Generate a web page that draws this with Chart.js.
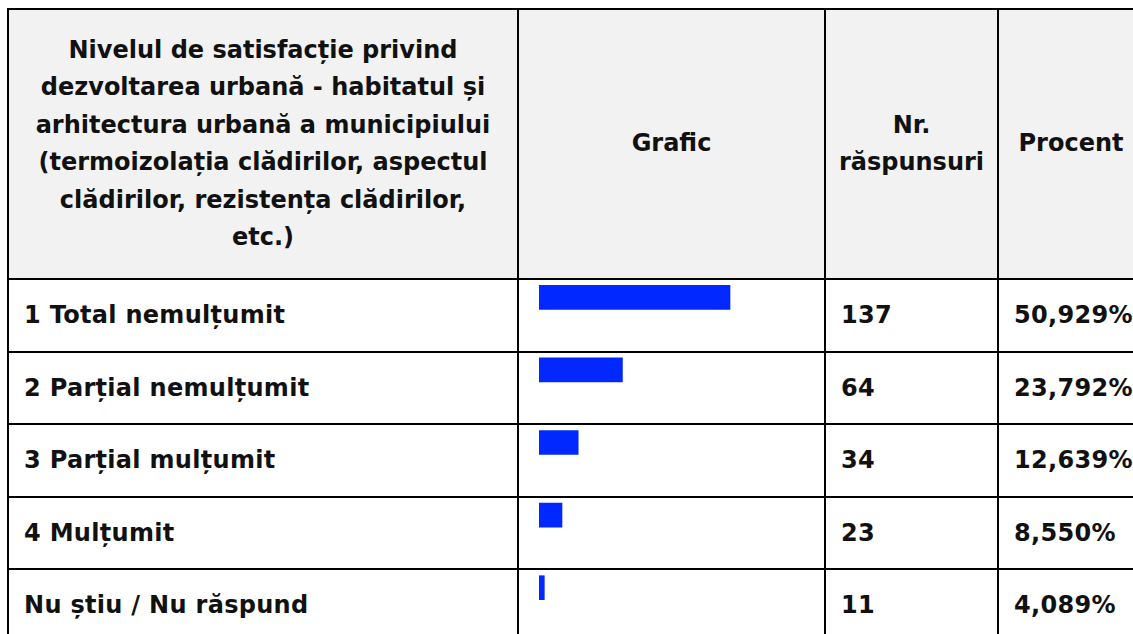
<!DOCTYPE html>
<html>
<head>
<meta charset="utf-8">
<script src="https://cdn.jsdelivr.net/npm/chart.js@4"></script>
<style>
  html, body { margin: 0; padding: 0; background: #fff; overflow: hidden; }
  body { width: 1133px; height: 634px; position: relative; }
  #tbl {
    position: absolute; left: 7px; top: 8px;
    border-collapse: collapse; table-layout: fixed; width: 1136px;
    font-family: "DejaVu Sans", sans-serif;
    font-weight: bold; font-size: 24px; color: #111;
  }
  #tbl td { border: 2px solid #000; padding: 0 15px; vertical-align: middle; white-space: nowrap; letter-spacing: 0.3px; }
  #tbl tr.head td { background: #f2f2f2; text-align: center; line-height: 37.5px; height: 268px; white-space: normal; padding: 0 6px; letter-spacing: 0; }
  #tbl tr.head td.first { padding: 0 22px; }
  #tbl tr.row td { height: 70.5px; }
  #grafic { position: absolute; left: 539px; top: 261px; }
</style>
</head>
<body>
<table id="tbl">
  <colgroup><col style="width:510px"><col style="width:307px"><col style="width:173px"><col style="width:146px"></colgroup>
  <tr class="head">
    <td class="first">Nivelul de satisfacție privind dezvoltarea urbană - habitatul și arhitectura urbană a municipiului (termoizolația clădirilor, aspectul clădirilor, rezistența clădirilor, etc.)</td>
    <td>Grafic</td>
    <td>Nr. răspunsuri</td>
    <td>Procent</td>
  </tr>
</table>
<canvas id="grafic" width="270" height="363"></canvas>
<script>
// categories, answer counts and the printed percentages
var categories = ["1 Total nemulțumit", "2 Parțial nemulțumit", "3 Parțial mulțumit", "4 Mulțumit", "Nu știu / Nu răspund"];
var responses = [137, 64, 34, 23, 11];
var percents = ["50,929%", "23,792%", "12,639%", "8,550%", "4,089%"];

// value range of the bar column
var axisMin = 7.4;
var axisMax = 190.6;

var tbl = document.getElementById('tbl');
categories.forEach(function(cat, i) {
  var tr = document.createElement('tr');
  tr.className = 'row';
  [cat, '', responses[i], percents[i]].forEach(function(txt) {
    var td = document.createElement('td');
    td.textContent = txt;
    tr.appendChild(td);
  });
  tbl.appendChild(tr);
});

new Chart(document.getElementById('grafic'), {
  type: 'bar',
  data: {
    labels: categories,
    datasets: [{
      label: "Nr. răspunsuri",
      data: responses,
      backgroundColor: '#0028ff',
      borderWidth: 0,
      barThickness: 24
    }]
  },
  options: {
    indexAxis: 'y',
    responsive: false,
    devicePixelRatio: 1,
    animation: false,
    layout: { padding: 0 },
    scales: {
      x: { type: 'linear', min: axisMin, max: axisMax, display: false },
      y: { display: false, offset: true }
    },
    plugins: {
      legend: { display: false },
      tooltip: { enabled: false }
    }
  }
});
</script>
</body>
</html>
